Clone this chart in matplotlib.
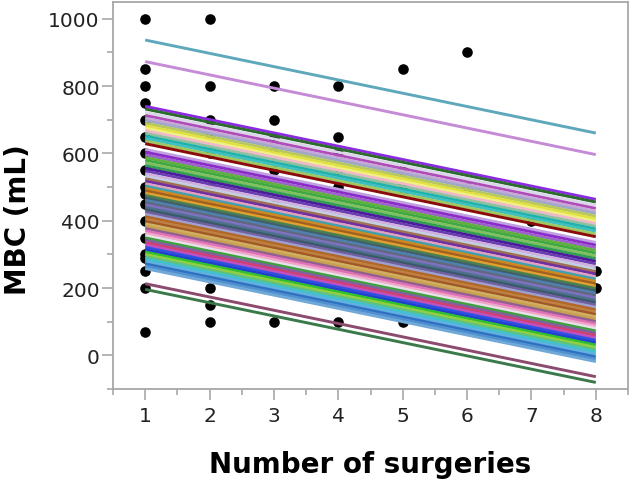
import matplotlib
matplotlib.use("Agg")
import matplotlib.pyplot as plt
from matplotlib.ticker import MultipleLocator

# ---- data: observed MBC by number of surgeries ----
mbc_s1 = [1000, 850, 800, 750, 700, 650, 600, 550, 500, 480, 450, 400, 350, 300, 290, 250, 200, 70]
mbc_s2 = [1000, 800, 700, 650, 600, 500, 450, 300, 200, 150, 100]
mbc_s3 = [800, 700, 650, 600, 550, 450, 250, 100]
mbc_s4 = [800, 650, 600, 550, 500, 400, 300, 220, 100]
mbc_s5 = [850, 550, 500, 490, 350, 250, 100]
mbc_s6 = [900, 500, 495]
mbc_s7 = [400]
mbc_s8 = [250, 200]
surgeries = [1, 2, 3, 4, 5, 6, 7, 8]
mbc_groups = [mbc_s1, mbc_s2, mbc_s3, mbc_s4, mbc_s5, mbc_s6, mbc_s7, mbc_s8]

# per-subject fitted lines: value at x=1, common slope
line_slope = -39.5
line_x_start = 1
line_x_end = 8
line_start = [937, 873,
              740, 732, 722, 713, 705, 698, 690, 682, 675, 668, 660, 652, 645, 637, 629,
              612, 604, 596, 588, 580, 572, 564, 556, 548, 540, 532, 525, 518, 510, 503,
              496, 489, 482, 475, 468, 461, 454, 447, 440, 433, 426, 419, 412, 405, 398,
              391, 384, 377, 370, 363, 356, 349, 342, 335, 328, 321, 314, 307, 300, 293,
              286, 279, 272, 265, 258,
              213, 196]
line_colors = ["#5FA8BC", "#C58BD6",
               "#8A2BE2", "#2E6B2E", "#D8D8E8", "#B04CB8", "#C8A8D8", "#A0A8C8", "#B8C860",
               "#E0E040", "#F0F080", "#F0B8C8", "#90C0A0", "#20B2AA", "#40C0C0", "#A0C860",
               "#8B0A0A",
               "#C0A0E0", "#8B2BC8", "#A060D0", "#60B040", "#40A840", "#80C060", "#30A050",
               "#4B1C9B", "#6A3DB0", "#D0B0E0", "#C0D0E0", "#A07050", "#7030A0", "#E0A0C0",
               "#40A0B0",
               "#D08820", "#A06020", "#E0A030", "#4A8050", "#40606A", "#5080B0", "#606880",
               "#8070C0", "#507090", "#3A5A6A", "#7060A0", "#A0A0D0", "#B06828", "#C08040",
               "#A05828",
               "#D0B060", "#C8A050", "#906090", "#E070B8", "#F0A8C8", "#E8E0E8", "#40A040",
               "#8060A0", "#D04070", "#C050C0", "#3050E0", "#2040D0", "#30C030", "#90D040",
               "#60C080",
               "#40C0D0", "#60B0E0", "#3070C0", "#5090D0", "#70A8D8",
               "#8C4B6E", "#3A7A4A"]

x_ticks = [1, 2, 3, 4, 5, 6, 7, 8]
y_ticks = [0, 200, 400, 600, 800, 1000]

# ---- figure ----
fig = plt.figure(figsize=(6.33, 4.85), dpi=100)
ax = fig.add_axes([113/633, 1-390/485, (628-113)/633, (390-3)/485])

for sx, vals in zip(surgeries, mbc_groups):
    ax.scatter([sx]*len(vals), vals, s=58, color="black", zorder=2, linewidths=0)

for v, c in zip(line_start, line_colors):
    ys = [v, v + line_slope*(line_x_end - line_x_start)]
    ax.plot([line_x_start, line_x_end], ys, color=c, lw=2.1, zorder=3,
            solid_capstyle="butt")

ax.set_xlim(0.5, 8.5)
ax.set_ylim(-100, 1050)
ax.set_xticks(x_ticks)
ax.set_yticks(y_ticks)
ax.xaxis.set_minor_locator(MultipleLocator(0.5))
ax.yaxis.set_minor_locator(MultipleLocator(100))

for s in ax.spines.values():
    s.set_color("#A8A8A8")
    s.set_linewidth(1.3)

ax.tick_params(which="major", length=8, width=1.2, color="#A8A8A8",
               labelsize=14.5, labelcolor="#222222")
ax.tick_params(which="minor", length=4, width=1.2, color="#A8A8A8")
ax.tick_params(axis="y", which="major", pad=1.5)
ax.tick_params(axis="x", which="major", pad=4)

fig.text(370/633, 1-465/485, "Number of surgeries", ha="center", va="center",
         fontsize=20, fontweight="bold", color="black")
fig.text(18/633, 1-220/485, "MBC (mL)", ha="center", va="center", rotation=90,
         fontsize=20, fontweight="bold", color="black")

fig.savefig("out.png", dpi=100)
